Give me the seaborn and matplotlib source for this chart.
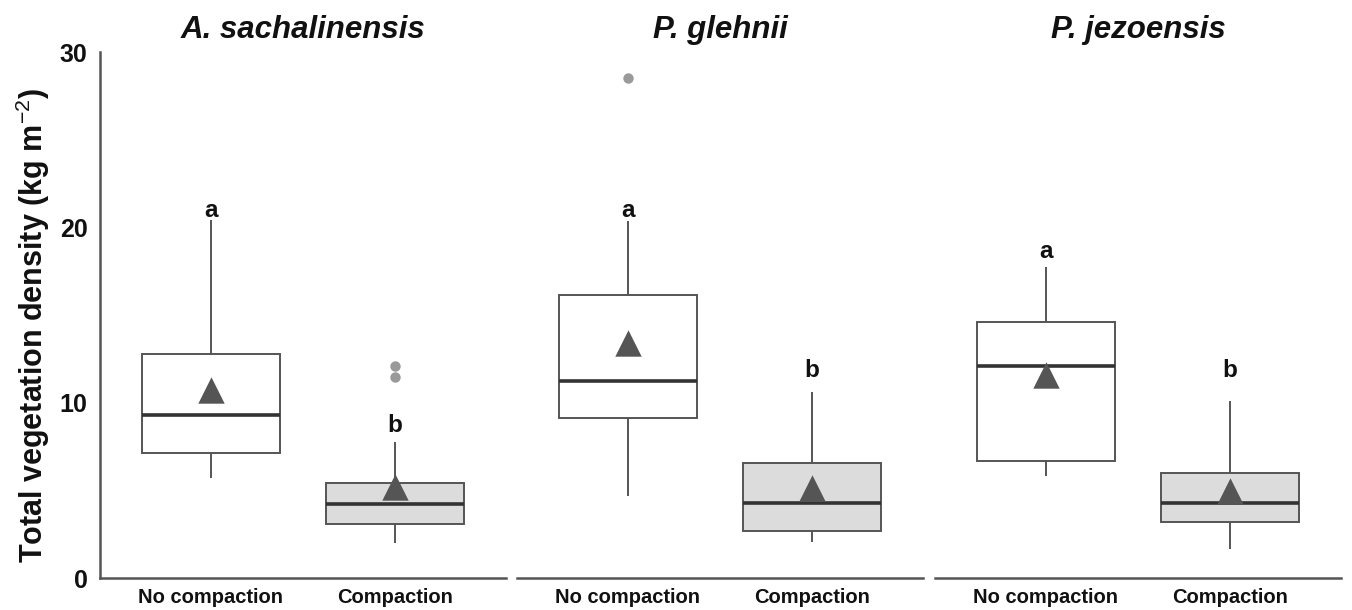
import numpy as np
import pandas as pd
import matplotlib
matplotlib.use("Agg")
import matplotlib.pyplot as plt
import seaborn as sns

# ---- data ----
species = ["A. sachalinensis", "P. glehnii", "P. jezoensis"]
treatments = ["No compaction", "Compaction"]

whisker_low = [[5.7, 2.0], [4.7, 2.05], [5.8, 1.65]]
q1 = [[7.15, 3.1], [9.1, 2.7], [6.65, 3.2]]
median = [[9.3, 4.2], [11.25, 4.25], [12.1, 4.3]]
q3 = [[12.75, 5.4], [16.15, 6.55], [14.6, 6.0]]
whisker_high = [[20.4, 7.75], [20.35, 10.6], [17.75, 10.1]]
means = [[10.7, 5.2], [13.4, 5.15], [11.55, 4.95]]
outlier_species = ["A. sachalinensis", "A. sachalinensis", "P. glehnii"]
outlier_treatment = ["Compaction", "Compaction", "No compaction"]
outlier_values = [12.1, 11.45, 28.5]
letters = [["a", "b"], ["a", "b"], ["a", "b"]]
letter_y = [[20.6, 8.3], [20.6, 11.45], [18.25, 11.45]]

# ---- style ----
sns.set_theme(style="white")
plt.rcParams["font.family"] = ["Liberation Sans", "DejaVu Sans"]
plt.rcParams["mathtext.fontset"] = "custom"
plt.rcParams["mathtext.rm"] = "Liberation Sans"
plt.rcParams["mathtext.bf"] = "Liberation Sans:bold"

fills = {"No compaction": "#ffffff", "Compaction": "#dcdcdc"}
edge = "#555555"

rows = []
for i, sp in enumerate(species):
    for j, tr in enumerate(treatments):
        for v in (whisker_low[i][j], q1[i][j], median[i][j], q3[i][j], whisker_high[i][j]):
            rows.append({"species": sp, "treatment": tr, "value": v})
df = pd.DataFrame(rows)

out_df = pd.DataFrame({"species": outlier_species, "treatment": outlier_treatment,
                       "value": outlier_values})
mean_df = pd.DataFrame({"species": np.repeat(species, 2),
                        "treatment": treatments * 3,
                        "value": np.ravel(means)})

fig = plt.figure(figsize=(13.52, 6.10), dpi=100)
W, H = 1352, 610
lefts = [100, 517, 935]
aw = 406
bottom, top = 578, 52

for i, sp in enumerate(species):
    ax = fig.add_axes([lefts[i] / W, (H - bottom) / H, aw / W, (bottom - top) / H])
    sub = df[df.species == sp]
    sns.boxplot(data=sub, x="treatment", y="value", hue="treatment", order=treatments,
                hue_order=treatments, palette=fills, whis=(0, 100), width=0.75,
                showcaps=False, showfliers=False, linecolor=edge, linewidth=1.4,
                medianprops={"color": "#333333", "linewidth": 2.6},
                legend=False, ax=ax)
    osub = out_df[out_df.species == sp]
    if len(osub):
        sns.stripplot(data=osub, x="treatment", y="value", order=treatments, jitter=False,
                      color="#9a9a9a", size=7.5, linewidth=0, ax=ax)
    msub = mean_df[mean_df.species == sp]
    sns.stripplot(data=msub, x="treatment", y="value", order=treatments, jitter=False,
                  marker="^", color="#555555", size=19, linewidth=0, ax=ax)
    for j, tr in enumerate(treatments):
        ax.text(j, letter_y[i][j], letters[i][j], ha="center", va="baseline",
                fontsize=17.5, fontweight="bold", color="#111111")

    ax.set_xlim(-0.6, 1.6)
    ax.set_ylim(0, 30)
    ax.set_xlabel("")
    ax.set_title(sp, fontsize=22.5, fontweight="bold", fontstyle="italic", pad=10,
                 color="#111111")
    for s in ["top", "right"]:
        ax.spines[s].set_visible(False)
    ax.spines["bottom"].set_color("#555555")
    ax.spines["bottom"].set_linewidth(1.8)
    ax.tick_params(axis="x", length=0, pad=7)
    for lab in ax.get_xticklabels():
        lab.set_fontweight("bold")
        lab.set_fontsize(14.5)
        lab.set_color("#111111")
    if i == 0:
        ax.spines["left"].set_color("#555555")
        ax.spines["left"].set_linewidth(1.8)
        ax.set_yticks([0, 10, 20, 30])
        ax.tick_params(axis="y", length=0, pad=9)
        for lab in ax.get_yticklabels():
            lab.set_fontweight("bold")
            lab.set_fontsize(18)
            lab.set_color("#111111")
        ax.set_ylabel("Total vegetation density (kg m$^{-2}$)", fontsize=22,
                      fontweight="bold", color="#111111")
        ax.yaxis.set_label_coords(-0.118, 0.48)
    else:
        ax.spines["left"].set_visible(False)
        ax.set_yticks([])
        ax.set_ylabel("")
    ax.set_facecolor("white")

fig.savefig("out.png", dpi=100, facecolor="white")
